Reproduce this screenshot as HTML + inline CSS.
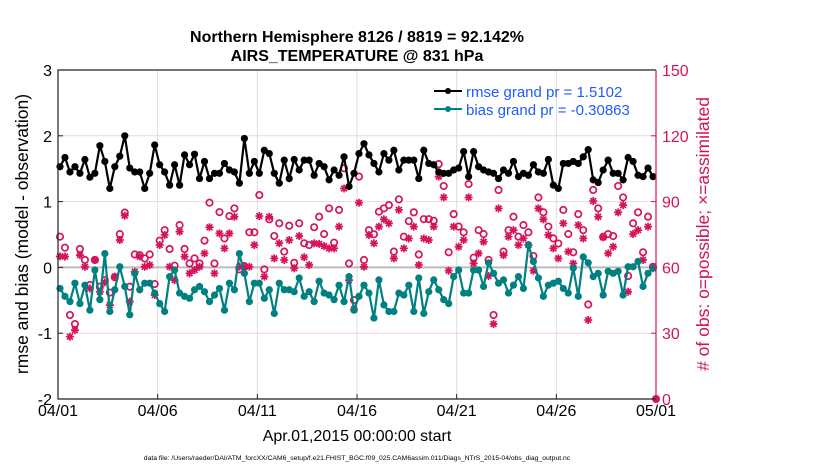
<!DOCTYPE html>
<html><head><meta charset="utf-8"><style>
body{margin:0;background:#fff;width:830px;height:470px;overflow:hidden;font-family:"Liberation Sans",sans-serif}
svg{position:absolute;left:0;top:0}
</style></head><body>
<svg id="chart" width="830" height="470">
<g id="grid"></g>
<g id="series"></g>
<g id="axes"></g>
<text x="357" y="42" text-anchor="middle" font-size="16" font-weight="bold">Northern Hemisphere 8126 / 8819 = 92.142%</text>
<text x="357" y="61" text-anchor="middle" font-size="16" font-weight="bold">AIRS_TEMPERATURE @ 831 hPa</text>
<text transform="translate(28,234) rotate(-90)" text-anchor="middle" font-size="17.5">rmse and bias (model - observation)</text>
<text transform="translate(709,234) rotate(-90)" text-anchor="middle" font-size="17.5" fill="#d6135a"># of obs: o=possible; ×=assimilated</text>
<text x="357" y="441" text-anchor="middle" font-size="16">Apr.01,2015 00:00:00 start</text>
<text x="357" y="460" text-anchor="middle" font-size="6.8">data file: /Users/raeder/DAI/ATM_forcXX/CAM6_setup/f.e21.FHIST_BGC.f09_025.CAM6assim.011/Diags_NTrS_2015-04/obs_diag_output.nc</text>
<g>
<line x1="434" y1="91" x2="462" y2="91" stroke="#000" stroke-width="2"/><circle cx="448" cy="91" r="3" fill="#000"/>
<text x="466" y="97" font-size="15" fill="#1f5cff">rmse grand pr = 1.5102</text>
<line x1="434" y1="109" x2="462" y2="109" stroke="#008080" stroke-width="2"/><circle cx="448" cy="109" r="3" fill="#008080"/>
<text x="466" y="115" font-size="15" fill="#1f5cff">bias grand pr = -0.30863</text>
</g>
</svg>
<script>
const rmse=[1.53,1.67,1.45,1.53,1.43,1.64,1.37,1.43,1.85,1.61,1.20,1.53,1.69,2.0,1.51,1.45,1.45,1.20,1.43,1.86,1.56,1.45,1.25,1.56,1.25,1.71,1.56,1.72,1.35,1.61,1.35,1.43,1.43,1.58,1.48,1.45,1.28,1.96,1.43,
1.61,1.43,1.78,1.73,1.43,1.28,1.63,1.35,1.64,1.48,1.63,1.63,1.40,1.58,1.53,1.33,1.48,1.40,1.68,1.23,1.43,1.73,1.88,1.71,1.58,1.45,1.73,1.63,1.78,1.48,1.63,1.63,1.63,1.35,1.78,1.58,1.56,1.45,1.43,1.43,1.48,
1.51,1.76,1.38,1.76,1.53,1.48,1.45,1.43,1.35,1.48,1.43,1.61,1.38,1.43,1.40,1.56,1.45,1.43,1.64,1.25,1.20,1.58,1.58,1.61,1.58,1.68,1.79,1.33,1.29,1.48,1.63,1.43,1.43,1.33,1.67,1.61,1.40,1.38,1.51,1.38];
const bias=[-0.32,-0.44,-0.52,-0.24,-0.55,-0.27,-0.65,-0.04,-0.49,0.21,-0.67,-0.34,0.01,-0.29,-0.72,-0.09,-0.34,-0.24,-0.24,-0.39,-0.55,-0.67,-0.14,-0.04,-0.39,-0.44,-0.47,-0.34,-0.29,-0.37,-0.52,-0.42,-0.32,-0.65,-0.24,-0.34,0.21,-0.09,-0.52,
-0.24,-0.24,-0.47,-0.34,-0.70,-0.24,-0.34,-0.34,-0.37,-0.16,-0.44,-0.37,-0.52,-0.21,-0.39,-0.42,-0.49,-0.27,-0.52,-0.14,-0.65,-0.44,-0.27,-0.39,-0.77,-0.19,-0.57,-0.67,-0.67,-0.39,-0.42,-0.27,-0.67,-0.16,-0.70,-0.37,-0.19,-0.34,-0.49,-0.55,-0.14,
-0.04,-0.39,-0.39,-0.04,-0.04,-0.29,0.07,-0.09,-0.24,-0.19,-0.39,-0.27,-0.14,-0.32,0.34,0.09,-0.16,-0.44,-0.27,-0.24,-0.21,-0.32,-0.39,-0.01,-0.44,0.16,0.07,-0.14,-0.09,-0.42,-0.06,-0.09,-0.06,-0.42,0.01,0.01,0.09,-0.29,-0.09,-0.01];
const possible=[74,69,38.3,34.2,68.4,63.4,52,63.4,51.2,54.2,48.5,55.5,75.2,85,51.2,65.9,65.6,64.1,65.9,52.4,72.2,77,68.4,60.8,79.3,68.4,61.8,64.1,61.8,72.2,89.5,61.8,85.2,73.2,83.4,86.9,59.1,60.6,76,76,93,
59.1,81.9,74.3,80.1,67.2,79,62.1,80.1,71,70.2,78.3,83.1,75.2,86.9,71.3,86.2,105.2,61.8,45.1,101.4,63.4,77,75.1,85.4,86.9,88.4,67.2,91,74,81.1,85.1,65.9,82,82,81.3,107.1,97.1,66.9,84.3,78.6,
76,98,64.4,77,75.2,63.4,38.3,95.3,67.2,77,83.1,74,79.3,76,65.2,91.9,85.1,78.6,73.2,70.9,86.2,75.2,66.9,84.3,77,43.1,95.3,86.9,74,75.2,74.3,97.1,91.9,56.1,80.1,85.1,66.9,83.1,60.3];
const assimilated=[65,64.9,28.4,31.4,65.6,60.3,50.4,63.4,48.9,53.2,42.8,55.8,72.5,83.6,44.4,58,64.9,60.3,61.1,47.4,70.2,74.8,60.3,54.2,76.3,64.9,57.3,58.8,60.3,66.4,78.3,57.3,75.5,68.7,75.5,83.1,60.3,60.3,60.3,70.2,83.4,
55.8,83.1,64.1,71,63.4,72.5,59.6,74.3,64.6,61.1,71,70.7,69.7,68.7,68.7,78.6,96,54.2,40.9,89.5,60.3,74.8,71,78.6,81.9,80.1,64.1,86.2,68.7,73.2,78.6,61.1,73.2,72.5,78.6,101.4,91.9,58.5,78.6,69.4,
72.5,91.9,61.8,66.4,71.7,56.1,34.2,86.9,65.6,74,77,70.2,73.2,70.2,58.5,86.9,81.9,74.8,68.7,64.1,80.1,67.2,61.8,79.3,73.2,36,90.3,83.1,73.7,66.4,69.4,85.1,88.4,48.9,75.2,77,63.4,78.6,59.6];
const xTicks=["04/01","04/06","04/11","04/16","04/21","04/26","05/01"];
const yTicks=[3,2,1,0,-1,-2];
const rTicks=[150,120,90,60,30,0];

const L=58,R=656,T=70,B=399,NS="http://www.w3.org/2000/svg";
const xS=d=>L+d*(R-L)/30;
const yS=v=>T+(3-v)*(B-T)/5;
const rS=n=>B-n*(B-T)/150;
function mk(p,tag,a){const e=document.createElementNS(NS,tag);for(const k in a)e.setAttribute(k,a[k]);p.appendChild(e);return e;}
const grid=document.getElementById('grid'),ser=document.getElementById('series'),ax=document.getElementById('axes');
xTicks.forEach((t,i)=>{const x=xS(i*5);
 if(i>0&&i<6){const g=mk(grid,'line',{x1:x,x2:x,y1:T,y2:B,stroke:'#ddd','stroke-width':1});
 
 }
 mk(ax,'line',{x1:x,x2:x,y1:B,y2:B-5,stroke:'#222'});
 const tx=mk(ax,'text',{x:x,y:B+17,'text-anchor':'middle','font-size':16});tx.textContent=t;
 
 });
rTicks.forEach(n=>{const y=rS(n);
 if(n>0&&n<150){const g=mk(grid,'line',{x1:L,x2:R,y1:y,y2:y,stroke:'#f3d3de','stroke-width':1});
 
 }
 mk(ax,'line',{x1:R-5,x2:R,y1:y,y2:y,stroke:'#d6135a'});
 const tx=mk(ax,'text',{x:R+6,y:y+6,'font-size':16,fill:'#d6135a'});tx.textContent=n;
 
 });
yTicks.forEach(v=>{const y=yS(v);
 mk(ax,'line',{x1:L,x2:L+5,y1:y,y2:y,stroke:'#222'});
 const tx=mk(ax,'text',{x:L-6,y:y+6,'text-anchor':'end','font-size':16});tx.textContent=v;
 
 });
const z=mk(grid,'line',{x1:L,x2:R,y1:yS(0),y2:yS(0),stroke:'#bbb','stroke-width':2});


mk(ax,'polyline',{points:`${R},${T} ${L},${T} ${L},${B} ${R},${B}`,fill:'none',stroke:'#222','stroke-width':1.2});
mk(ax,'line',{x1:R,x2:R,y1:T,y2:B,stroke:'#d6135a','stroke-width':1.2});
const dd=i=>0.1+i*0.25;
possible.forEach((n,i)=>{const c=mk(ser,'circle',{cx:xS(dd(i)),cy:rS(n),r:3.2,fill:'none',stroke:'#d6135a','stroke-width':1.7});
 
 });
assimilated.forEach((n,i)=>{const x=xS(dd(i)),y=rS(n),r=4,q=2.9;
 const p=mk(ser,'path',{d:`M${x-r},${y}H${x+r}M${x},${y-r}V${y+r}M${x-q},${y-q}L${x+q},${y+q}M${x-q},${y+q}L${x+q},${y-q}`,stroke:'#d6135a','stroke-width':1.7,fill:'none'});
 
 });
const endM=mk(ser,'circle',{cx:R,cy:rS(0),r:4,fill:'#d6135a'});


function line(arr,col,name){
 const p=mk(ser,'polyline',{points:arr.map((v,i)=>xS(dd(i))+','+yS(v)).join(' '),fill:'none',stroke:col,'stroke-width':2.2});
 
 
 arr.forEach((v,i)=>{const c=mk(ser,'circle',{cx:xS(dd(i)),cy:yS(v),r:3.6,fill:col});
  
  });
}
line(rmse,'#000','rmse');
line(bias,'#008080','bias');
</script>
</body></html>
